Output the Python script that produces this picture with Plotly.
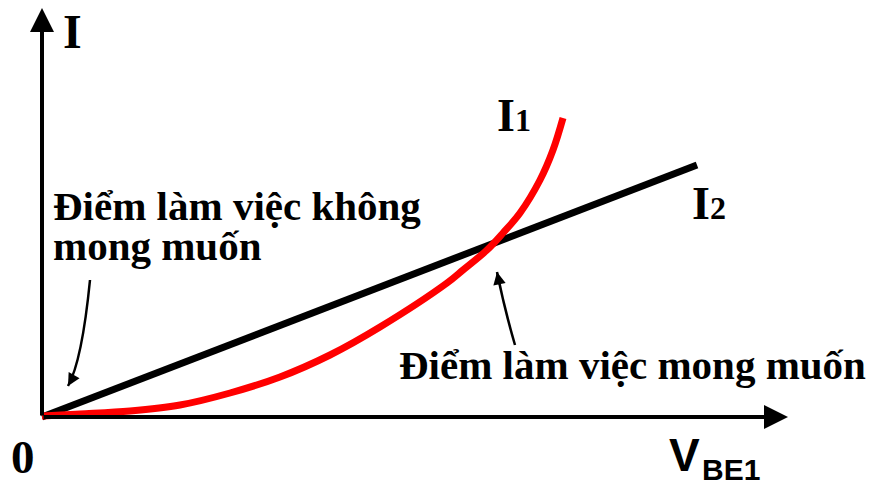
import plotly.graph_objects as go

# ---- data (V in arbitrary units, I in arbitrary units) ----
v_i1 = [0.0, 3.8, 8.8, 13.8, 18.8, 23.8, 28.8, 33.8, 40.5, 42.1, 44.5, 46.1, 47.8, 49.8, 51.1, 52.1]
i_i1 = [0.1, 0.3, 0.6, 1.2, 2.4, 4.0, 6.2, 9.0, 13.4, 14.7, 16.7, 18.4, 20.4, 23.7, 26.7, 29.9]

v_i2 = [0.0, 65.5]
i_i2 = [0.0, 25.2]

x_axis_end = 74.6   # horizontal axis arrow tip
y_axis_end = 40.9   # vertical axis arrow tip

# pointer arrows: tail, bend control, tip (V, I)
undesired_ptr = [(4.8, 13.7), (4.0, 5.6), (2.6, 3.1)]
desired_ptr = [(47.3, 7.2), (46.3, 10.6), (45.5, 14.5)]

SERIF = "Liberation Serif, Times New Roman, serif"
SANS = "Liberation Sans, Arial, sans-serif"

fig = go.Figure()
fig.add_trace(go.Scatter(x=v_i2, y=i_i2, mode="lines",
                         line=dict(color="black", width=7), hoverinfo="skip"))
fig.add_trace(go.Scatter(x=v_i1, y=i_i1, mode="lines",
                         line=dict(color="#ff0000", width=7, shape="spline", smoothing=1.0),
                         hoverinfo="skip"))

ann = []
shapes = []
# axes as arrows
ann.append(dict(x=x_axis_end, y=0, ax=0, ay=0, xref="x", yref="y", axref="x", ayref="y",
                showarrow=True, arrowhead=2, arrowwidth=4, arrowsize=1.2, arrowcolor="black", text=""))
ann.append(dict(x=0, y=y_axis_end, ax=0, ay=0, xref="x", yref="y", axref="x", ayref="y",
                showarrow=True, arrowhead=2, arrowwidth=4, arrowsize=1.2, arrowcolor="black", text=""))

# curved pointer arrows: bezier body + arrowhead
for (t, c, h) in (undesired_ptr, desired_ptr):
    shapes.append(dict(type="path", xref="x", yref="y",
                       path=f"M {t[0]},{t[1]} Q {c[0]},{c[1]} {h[0]},{h[1]}",
                       line=dict(color="black", width=2.5)))
    dx, dy = c[0] - h[0], c[1] - h[1]
    ann.append(dict(x=h[0], y=h[1], ax=h[0] + dx * 0.35, ay=h[1] + dy * 0.35,
                    xref="x", yref="y", axref="x", ayref="y",
                    showarrow=True, arrowhead=2, arrowwidth=2.5, arrowsize=1.0,
                    arrowcolor="black", text=""))

# labels
ann.append(dict(x=3.0, y=38.6, text="<b>I</b>", showarrow=False, xref="x", yref="y",
                font=dict(family=SERIF, size=48, color="black")))
ann.append(dict(x=-1.9, y=-4.0, text="<b>0</b>", showarrow=False, xref="x", yref="y",
                font=dict(family=SERIF, size=47, color="black")))
ann.append(dict(x=45.3, y=30.2, text="<b>I</b><b><span style='font-size:32px'>1</span></b>",
                showarrow=False, xref="x", yref="y", xanchor="left",
                font=dict(family=SERIF, size=46, color="black")))
ann.append(dict(x=64.8, y=21.4, text="<b>I</b><b><span style='font-size:32px'>2</span></b>",
                showarrow=False, xref="x", yref="y", xanchor="left",
                font=dict(family=SERIF, size=46, color="black")))
ann.append(dict(x=62.5, y=-3.8, text="<b>V</b>", showarrow=False, xref="x", yref="y", xanchor="left",
                font=dict(family=SANS, size=46, color="black")))
ann.append(dict(x=65.8, y=-5.2, text="<b>BE1</b>", showarrow=False, xref="x", yref="y", xanchor="left",
                font=dict(family=SANS, size=30, color="black")))
ann.append(dict(x=0.9, y=21.1, text="<b>Điểm làm việc không</b>", showarrow=False,
                xref="x", yref="y", xanchor="left", yanchor="middle",
                font=dict(family=SERIF, size=41, color="black")))
ann.append(dict(x=0.9, y=17.1, text="<b>mong muốn</b>", showarrow=False,
                xref="x", yref="y", xanchor="left", yanchor="middle",
                font=dict(family=SERIF, size=41, color="black")))
ann.append(dict(x=35.5, y=5.2, text="<b>Điểm làm việc mong muốn</b>", showarrow=False,
                xref="x", yref="y", xanchor="left", yanchor="middle",
                font=dict(family=SERIF, size=41, color="black")))

# the page body has an 8px margin, so the figure is 16px smaller and ranges account for it
fig.update_layout(
    width=859, height=472,
    margin=dict(l=0, r=0, t=0, b=0),
    paper_bgcolor="white", plot_bgcolor="white",
    showlegend=False,
    xaxis=dict(range=[-3.4, 82.5], visible=False, fixedrange=True),
    yaxis=dict(range=[-6.3, 40.9], visible=False, fixedrange=True),
    annotations=ann,
    shapes=shapes,
)
fig.write_html("out.html")
